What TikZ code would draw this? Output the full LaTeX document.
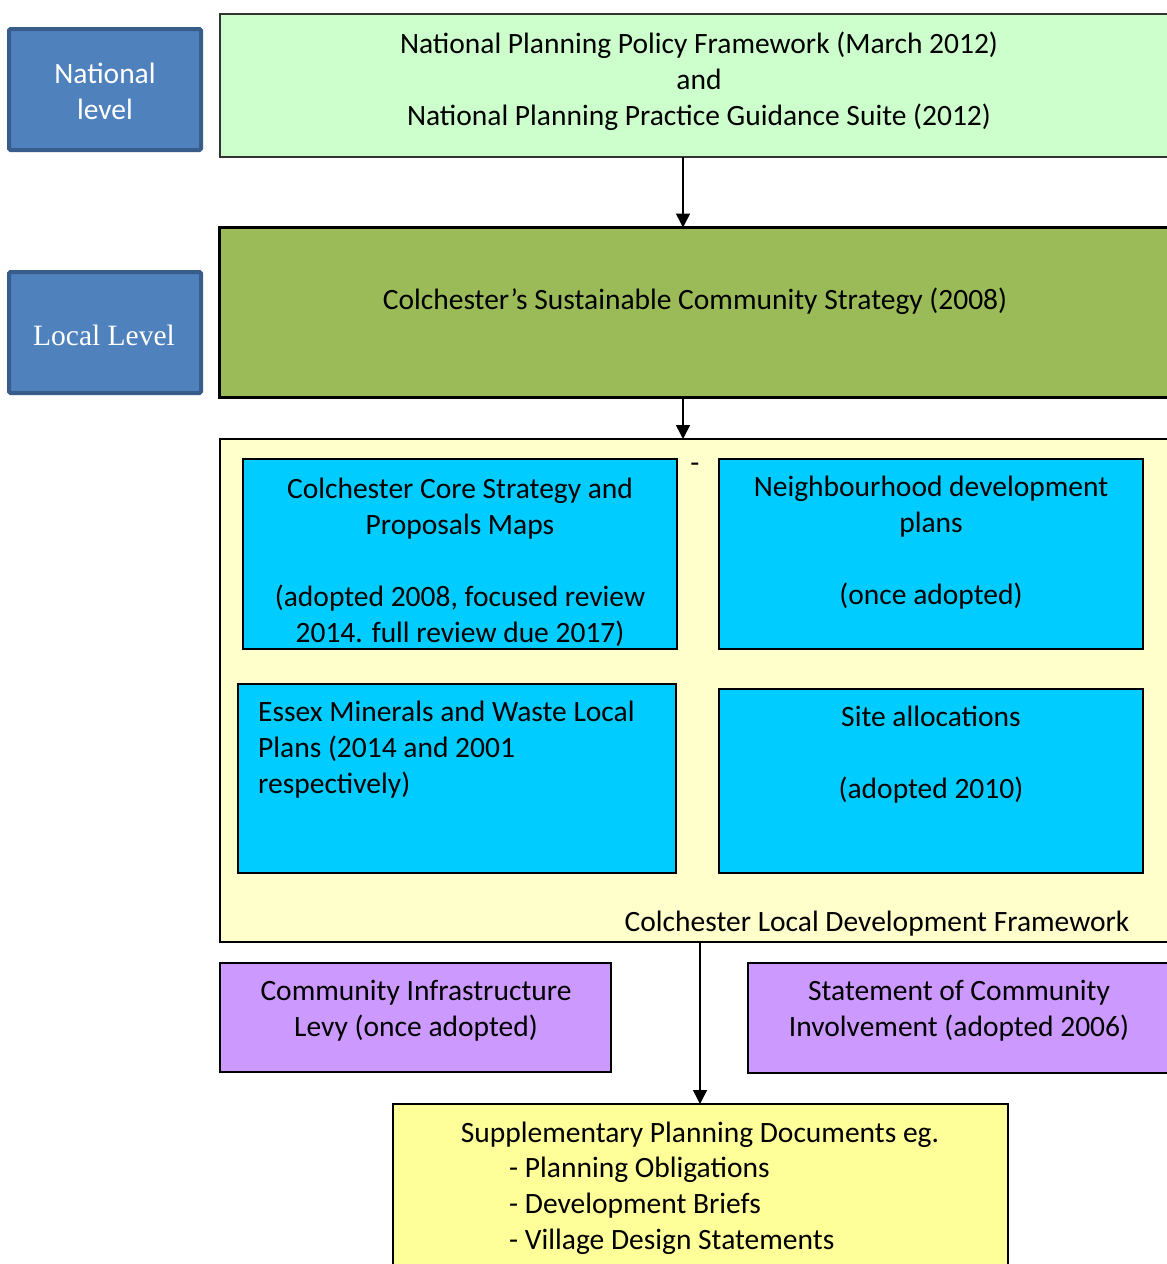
\documentclass[tikz,border=0pt]{standalone}
\usepackage{fontspec}
\setmainfont{Carlito}
\newfontfamily\serifface{Liberation Serif}
\usetikzlibrary{arrows.meta}
\definecolor{lvlblue}{HTML}{4F81BD}
\definecolor{lvlborder}{HTML}{385D8A}
\definecolor{natgreen}{HTML}{CCFFCC}
\definecolor{locgreen}{HTML}{9BBB59}
\definecolor{ldfyellow}{HTML}{FFFFCC}
\definecolor{cyanbox}{HTML}{00CCFF}
\definecolor{purplebox}{HTML}{CC99FF}
\definecolor{spdyellow}{HTML}{FFFF99}
\begin{document}
\begin{tikzpicture}[x=1pt,y=-1pt,
  box/.style={draw=black, line width=2pt, anchor=north west, inner sep=0pt, outer sep=0pt},
  lvlbox/.style={draw=lvlborder, fill=lvlblue, line width=4pt, rounded corners=1.5pt, anchor=north west, inner sep=0pt, outer sep=0pt},
  txt/.style={font=\fontsize{29.5}{36}\selectfont, align=center, inner sep=0pt},
  arr/.style={line width=1.5pt, -{Triangle[width=14pt,length=14pt]}}
]
\clip (0,0) rectangle (1167,1264);
\fill[white] (0,0) rectangle (1167,1264);

% level labels
\node[lvlbox, minimum width=192, minimum height=121] (nat) at (9,29) {};
\node[txt, text=white] (natt) at (105,91) {National\\level};
\node[lvlbox, minimum width=192, minimum height=121] (loc) at (9,272) {};
\node[font=\serifface\fontsize{29.5}{36}\selectfont, text=white, inner sep=0pt] (loct) at (104,335) {Local Level};

% national framework
\node[box, draw=black!80, fill=natgreen, minimum width=961, minimum height=143] (nppf) at (220,14) {};
\node[txt] (nppft) at (699,81) {National Planning Policy Framework (March 2012)\\and\\National Planning Practice Guidance Suite (2012)};

% local strategy
\node[box, line width=3pt, fill=locgreen, minimum width=962, minimum height=170] (scs) at (219.5,227.5) {};
\node[txt] (scst) at (695,301) {Colchester’s Sustainable Community Strategy (2008)};

% LDF
\node[box, fill=ldfyellow, minimum width=961, minimum height=503] (ldf) at (220,439) {};
\begin{scope}
\clip (221,440) rectangle (1180,941);
\node[txt] (ldft) at (877,924) {Colchester Local Development Framework};
\end{scope}
\node[txt] (dash) at (695,468) {-};

\node[box, draw=none, fill=cyanbox, minimum width=434, minimum height=190] (core) at (243,459) {};
\begin{scope}
\clip (243,459) rectangle (677,649);
\node[txt] (coret) at (460,562) {Colchester Core Strategy and\\Proposals Maps\\[36pt](adopted 2008, focused review\\2014. full review due 2017)};
\end{scope}
\draw[line width=2pt] (core.north west) rectangle (core.south east);

\node[box, fill=cyanbox, minimum width=424, minimum height=190] (nbh) at (719,459) {};
\node[txt] (nbht) at (931,543) {Neighbourhood development\\plans\\[36pt](once adopted)};

\node[box, fill=cyanbox, minimum width=438, minimum height=189] (essex) at (238,684) {};
\node[txt, align=left, anchor=north west] (essext) at (258,701) {Essex Minerals and Waste Local\\Plans (2014 and 2001\\respectively)};

\node[box, fill=cyanbox, minimum width=424, minimum height=184] (site) at (719,689) {};
\node[txt] (sitet) at (931,755) {Site allocations\\[36pt](adopted 2010)};

% purple boxes
\node[box, fill=purplebox, minimum width=391, minimum height=109] (cil) at (220,963) {};
\node[txt] (cilt) at (416,1011) {Community Infrastructure\\Levy (once adopted)};
\node[box, fill=purplebox, minimum width=433, minimum height=110] (sci) at (748,963) {};
\node[txt] (scit) at (959,1011) {Statement of Community\\Involvement (adopted 2006)};

% SPD
\node[box, fill=spdyellow, minimum width=615, minimum height=180] (spd) at (393,1104) {};
\node[txt] (spdt) at (700,1135) {Supplementary Planning Documents eg.};
\node[txt, align=left, anchor=north west] (spdl) at (509,1157) {- Planning Obligations\\- Development Briefs\\- Village Design Statements};

% connectors
\coordinate (ax) at (683,0);
\coordinate (bx) at (700,0);
\draw[arr] (nppf.south -| ax) -- (scs.north -| ax);
\draw[arr] (scs.south -| ax) -- (ldf.north -| ax);
\draw[arr] (ldf.south -| bx) -- (spd.north -| bx);
\end{tikzpicture}
\end{document}
